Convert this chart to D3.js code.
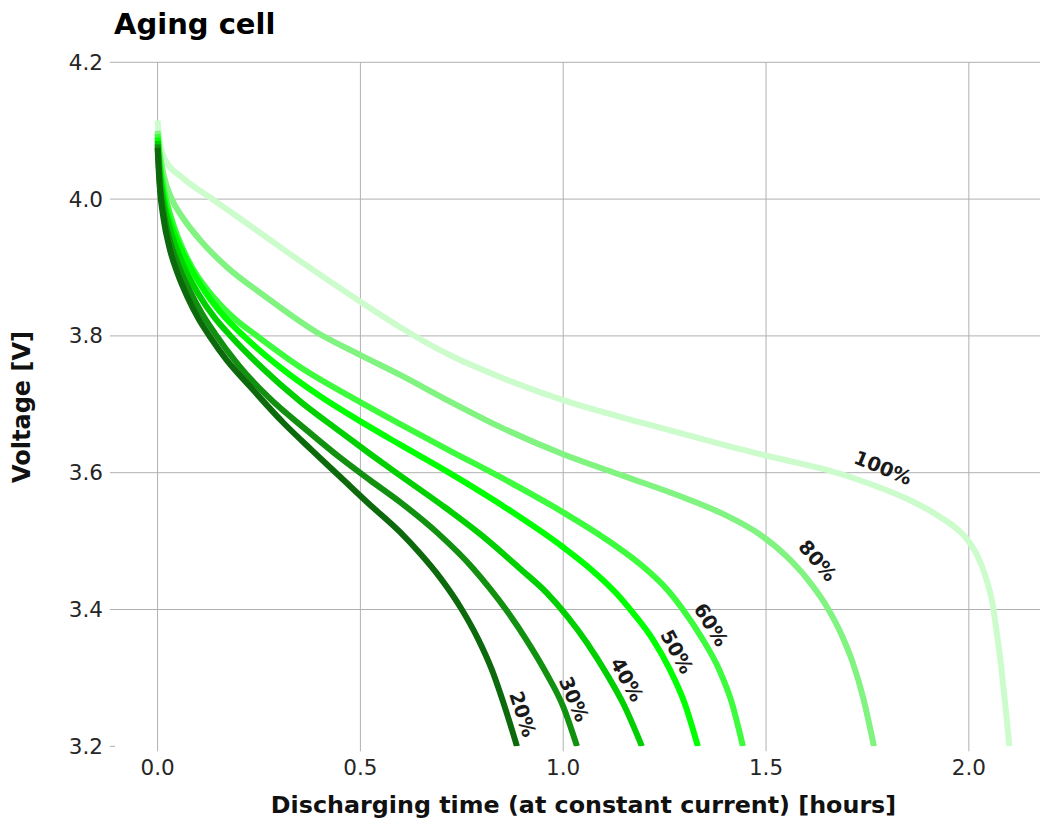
<!DOCTYPE html>
<html>
<head>
<meta charset="utf-8">
<script src="https://cdn.jsdelivr.net/npm/d3@7"></script>
<style>
  body { margin: 0; background: #fff; }
  text { font-family: "DejaVu Sans", sans-serif; }
</style>
</head>
<body>
<div id="chart"></div>
<script>
// Discharge curves, [time in hours, voltage]
var cell20 = [[0, 4.075], [0.005, 4.02], [0.015, 3.97], [0.03, 3.927], [0.05, 3.89], [0.075, 3.855],
  [0.1, 3.826], [0.13, 3.798], [0.17, 3.765], [0.228, 3.726], [0.31, 3.673], [0.38, 3.633],
  [0.45, 3.594], [0.52, 3.555], [0.598, 3.513], [0.65, 3.48], [0.696, 3.447], [0.75, 3.40],
  [0.79, 3.357], [0.824, 3.312], [0.86, 3.25], [0.886, 3.2]];
var cell30 = [[0, 4.08], [0.005, 4.028], [0.015, 3.98], [0.03, 3.94], [0.051, 3.903], [0.08, 3.865],
  [0.11, 3.832], [0.142, 3.803], [0.2, 3.757], [0.274, 3.71], [0.372, 3.66], [0.45, 3.622],
  [0.524, 3.589], [0.598, 3.557], [0.69, 3.512], [0.778, 3.46], [0.82, 3.43], [0.861, 3.398],
  [0.91, 3.355], [0.96, 3.305], [1.0, 3.258], [1.034, 3.2]];
var cell40 = [[0, 4.085], [0.005, 4.04], [0.015, 3.995], [0.03, 3.958], [0.06, 3.908], [0.1, 3.862],
  [0.14, 3.827], [0.18, 3.80], [0.26, 3.752], [0.35, 3.705], [0.45, 3.66], [0.525, 3.627],
  [0.6, 3.595], [0.7, 3.553], [0.8, 3.508], [0.893, 3.46], [0.96, 3.424], [1.01, 3.39],
  [1.06, 3.35], [1.108, 3.305], [1.15, 3.26], [1.194, 3.2]];
var cell50 = [[0, 4.09], [0.005, 4.05], [0.015, 4.005], [0.035, 3.96], [0.07, 3.912], [0.12, 3.862],
  [0.165, 3.828], [0.212, 3.80], [0.3, 3.755], [0.4, 3.712], [0.5, 3.675], [0.598, 3.641],
  [0.713, 3.602], [0.85, 3.552], [1.0, 3.491], [1.066, 3.46], [1.132, 3.423], [1.172, 3.395],
  [1.22, 3.357], [1.263, 3.312], [1.3, 3.262], [1.332, 3.2]];
var cell60 = [[0, 4.095], [0.005, 4.06], [0.015, 4.017], [0.035, 3.97], [0.076, 3.91], [0.14, 3.855],
  [0.19, 3.825], [0.245, 3.80], [0.35, 3.755], [0.47, 3.713], [0.598, 3.671], [0.721, 3.632],
  [0.85, 3.592], [1.0, 3.542], [1.1, 3.505], [1.206, 3.458], [1.255, 3.43], [1.295, 3.40],
  [1.34, 3.36], [1.386, 3.31], [1.415, 3.265], [1.443, 3.2]];
var cell80 = [[0, 4.10], [0.005, 4.07], [0.015, 4.035], [0.035, 4.0], [0.063, 3.972], [0.105, 3.94],
  [0.172, 3.90], [0.26, 3.86], [0.393, 3.805], [0.5, 3.772], [0.598, 3.743], [0.721, 3.704],
  [0.844, 3.667], [1.0, 3.627], [1.15, 3.595], [1.3, 3.563], [1.4, 3.538], [1.484, 3.51],
  [1.55, 3.478], [1.6, 3.446], [1.65, 3.404], [1.69, 3.358], [1.714, 3.322], [1.74, 3.27], [1.766, 3.2]];
var cell100 = [[0, 4.115], [0.004, 4.09], [0.019, 4.057], [0.06, 4.032], [0.135, 4.0], [0.25, 3.952],
  [0.35, 3.91], [0.5, 3.85], [0.6, 3.812], [0.72, 3.772], [0.844, 3.74], [1.0, 3.706],
  [1.2, 3.672], [1.35, 3.648], [1.48, 3.628], [1.58, 3.614], [1.65, 3.604], [1.75, 3.585],
  [1.854, 3.56], [1.93, 3.535], [1.97, 3.518], [1.995, 3.503], [2.02, 3.48], [2.044, 3.443],
  [2.058, 3.41], [2.068, 3.37], [2.08, 3.315], [2.09, 3.26], [2.1, 3.2]];

var seriesNames = ["100%", "80%", "60%", "50%", "40%", "30%", "20%"];
var seriesData = [cell100, cell80, cell60, cell50, cell40, cell30, cell20];
var seriesColors = ["#ccfccc", "#80f380", "#3dfc3d", "#00ff00", "#00cf00", "#12900f", "#0c690c"];
// where along each curve the inline label sits (hours) and its gap from the line (px)
var labelTimes = [1.77, 1.59, 1.333, 1.248, 1.125, 0.997, 0.865];
var labelGaps = [20, 20, 15, 15, 15, 13, 15];

var xTicks = [0.0, 0.5, 1.0, 1.5, 2.0];
var yTicks = [3.2, 3.4, 3.6, 3.8, 4.0, 4.2];

var svgWidth = 1040;
var svgHeight = 821;

var margin = { top: 62.3, left: 115, bottom: 821 - 746.3 };
var plotRight = 1052;
var width = plotRight - margin.left;
var height = svgHeight - margin.top - margin.bottom;

var svg = d3.select("#chart")
  .append("svg")
  .attr("width", svgWidth)
  .attr("height", svgHeight);

var chartGroup = svg.append("g")
  .attr("transform", `translate(${margin.left}, ${margin.top})`);

var xScale = d3.scaleLinear().domain([-0.105, 2.205]).range([0, width]);
var yScale = d3.scaleLinear().domain([3.2, 4.2]).range([height, 0]);

// Grid lines
chartGroup.selectAll(".vgrid")
  .data(xTicks)
  .enter()
  .append("line")
  .attr("x1", d => xScale(d))
  .attr("x2", d => xScale(d))
  .attr("y1", 0)
  .attr("y2", height + 5)
  .attr("stroke", "#b0b0b0")
  .attr("stroke-width", 1);

chartGroup.selectAll(".hgrid")
  .data(yTicks)
  .enter()
  .append("line")
  .attr("x1", -5)
  .attr("x2", d => d === 3.2 ? 0 : width)
  .attr("y1", d => yScale(d))
  .attr("y2", d => yScale(d))
  .attr("stroke", "#b0b0b0")
  .attr("stroke-width", 1);

// Tick labels
chartGroup.selectAll(".xtick")
  .data(xTicks)
  .enter()
  .append("text")
  .attr("x", d => xScale(d))
  .attr("y", height + 29)
  .attr("text-anchor", "middle")
  .attr("font-size", "21.5px")
  .attr("fill", "#262626")
  .text(d => d3.format(".1f")(d));

chartGroup.selectAll(".ytick")
  .data(yTicks)
  .enter()
  .append("text")
  .attr("x", -12)
  .attr("y", d => yScale(d))
  .attr("dy", "0.35em")
  .attr("text-anchor", "end")
  .attr("font-size", "21.5px")
  .attr("fill", "#262626")
  .text(d => d3.format(".1f")(d));

// Clip curves to the plot area
svg.append("clipPath")
  .attr("id", "plotClip")
  .append("rect")
  .attr("x", 0)
  .attr("y", -10)
  .attr("width", width)
  .attr("height", height + 10);

var line = d3.line()
  .x(d => xScale(d[0]))
  .y(d => yScale(d[1]))
  .curve(d3.curveMonotoneX);

chartGroup.append("g")
  .attr("clip-path", "url(#plotClip)")
  .selectAll("path")
  .data(seriesData)
  .enter()
  .append("path")
  .attr("d", d => line(d))
  .attr("fill", "none")
  .attr("stroke", (d, i) => seriesColors[i])
  .attr("stroke-width", 6);

// voltage at time t on a curve (linear between points)
function voltAt(series, t) {
  for (var k = 1; k < series.length; k++) {
    if (t <= series[k][0]) {
      var a = series[k - 1], b = series[k];
      return a[1] + (b[1] - a[1]) * (t - a[0]) / (b[0] - a[0]);
    }
  }
  return series[series.length - 1][1];
}

// Inline labels, rotated along the curve
seriesData.forEach((series, i) => {
  var t = labelTimes[i];
  var px = xScale(t), py = yScale(voltAt(series, t));
  var dx = xScale(t + 0.02) - xScale(t - 0.02);
  var dy = yScale(voltAt(series, t + 0.02)) - yScale(voltAt(series, t - 0.02));
  var len = Math.sqrt(dx * dx + dy * dy);
  var angle = Math.atan2(dy, dx) * 180 / Math.PI;
  var off = labelGaps[i];
  var lx = px + off * dy / len, ly = py - off * dx / len;
  chartGroup.append("text")
    .attr("transform", `translate(${lx}, ${ly}) rotate(${angle})`)
    .attr("text-anchor", "middle")
    .attr("dy", "0.35em")
    .attr("font-size", "19.5px")
    .attr("font-weight", "bold")
    .attr("fill", "#1a1a1a")
    .text(seriesNames[i]);
});

// Title and axis labels
svg.append("text")
  .attr("x", 114)
  .attr("y", 34)
  .attr("font-size", "29px")
  .attr("font-weight", "bold")
  .attr("fill", "#000")
  .text("Aging cell");

svg.append("text")
  .attr("x", margin.left + width / 2)
  .attr("y", 813)
  .attr("text-anchor", "middle")
  .attr("font-size", "23.8px")
  .attr("font-weight", "bold")
  .attr("fill", "#111")
  .text("Discharging time (at constant current) [hours]");

svg.append("text")
  .attr("transform", "translate(30, 407) rotate(-90)")
  .attr("text-anchor", "middle")
  .attr("font-size", "24px")
  .attr("font-weight", "bold")
  .attr("fill", "#111")
  .text("Voltage [V]");
</script>
</body>
</html>
